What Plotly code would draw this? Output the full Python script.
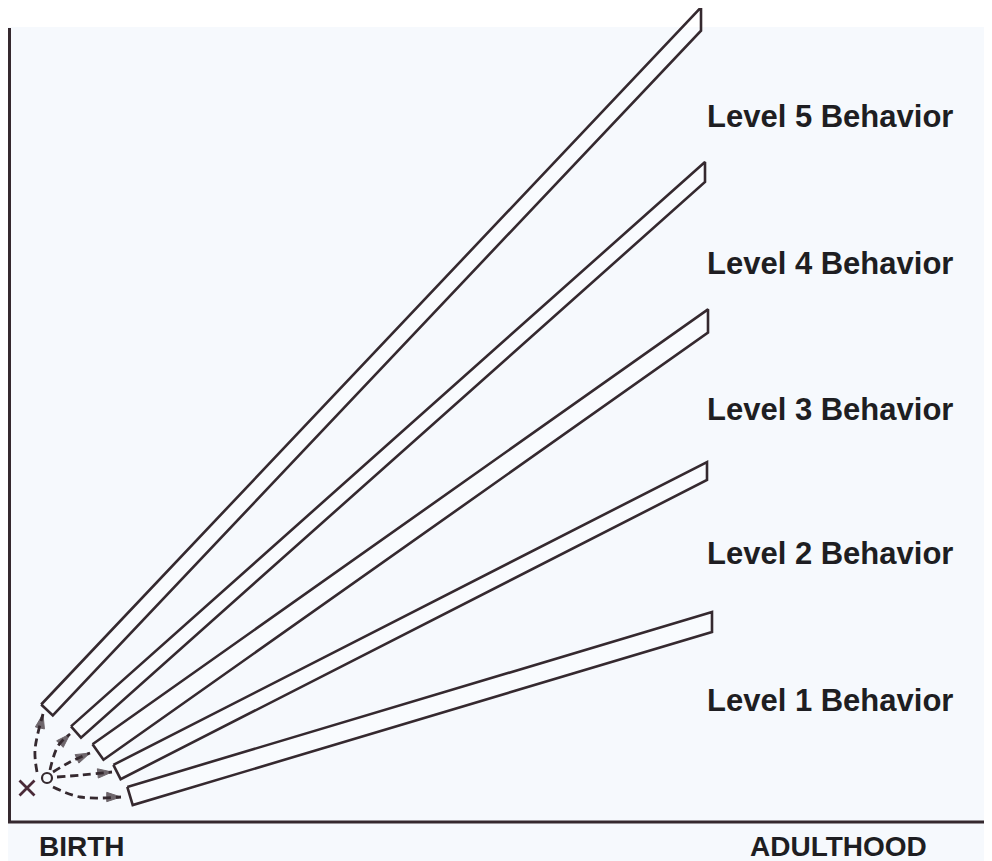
import numpy as np
import plotly.graph_objects as go

# ---- data (diagram units: x to the right, y downward) ----
levels = ["Level 1 Behavior", "Level 2 Behavior", "Level 3 Behavior",
          "Level 4 Behavior", "Level 5 Behavior"]
bar_start_x = [130, 117, 98, 76, 47]
bar_start_y = [796, 772, 752, 732, 710]
bar_end_x = [712, 707, 708, 705, 701]
bar_end_y = [622, 471, 321, 172, 19]
bar_thickness = [19, 16, 19, 15, 16]
label_y = [700, 553, 409, 263, 116]
label_x = 705

axis_x = [9.5, 9.5, 990]
axis_y = [28, 822, 822]
time_labels = ["BIRTH", "ADULTHOOD"]
time_label_x = [82, 838]
time_label_y = 846

origin_x = 27
origin_y = 788
hub_x = 47
hub_y = 778
# dashed arrows: start, bend, tip
arrow_x = [[53, 80, 121], [57, 82, 112], [53, 70, 90], [50, 58, 70], [37, 35, 43]]
arrow_y = [[787, 797, 797], [777, 775, 772], [772, 762, 753], [770, 746, 734], [772, 750, 714]]

INK = "#35292f"
BG = "#f6f9fd"

# the page body has an 8px margin; offset the axis ranges so diagram units match page pixels
PAGE_OFFSET = 8
FIG_W, FIG_H = 992 - PAGE_OFFSET, 861 - PAGE_OFFSET

fig = go.Figure()

# axes
fig.add_trace(go.Scatter(x=axis_x, y=axis_y, mode="lines",
                         line=dict(color=INK, width=3), hoverinfo="skip"))

# bars
for lx, ly, rx, ry, t in zip(bar_start_x, bar_start_y, bar_end_x, bar_end_y, bar_thickness):
    d = np.array([rx - lx, ry - ly], dtype=float)
    d /= np.linalg.norm(d)
    n = np.array([d[1], -d[0]])  # points "up" (smaller y)
    h = t / 2.0
    ul = np.array([lx, ly]) + n * h
    ll = np.array([lx, ly]) - n * h
    slope = d[1] / d[0]
    ur = (rx, ul[1] + (rx - ul[0]) * slope)
    lr = (rx, ll[1] + (rx - ll[0]) * slope)
    xs = [ul[0], ur[0], lr[0], ll[0], ul[0]]
    ys = [ul[1], ur[1], lr[1], ll[1], ul[1]]
    fig.add_trace(go.Scatter(x=xs, y=ys, mode="lines", fill="toself",
                             fillcolor="rgba(255,255,255,0.35)",
                             line=dict(color=INK, width=2.6), hoverinfo="skip"))

# dashed arrows
for ax_, ay_ in zip(arrow_x, arrow_y):
    fig.add_trace(go.Scatter(x=ax_, y=ay_, mode="lines",
                             line=dict(color=INK, width=2.8, dash="8px,5px", shape="spline"),
                             hoverinfo="skip"))
    fig.add_trace(go.Scatter(x=ax_[-2:], y=ay_[-2:], mode="markers",
                             marker=dict(symbol="arrow", angleref="previous",
                                         size=[0, 15], color=INK,
                                         line=dict(color=INK, width=1)),
                             hoverinfo="skip"))

# origin marks
fig.add_trace(go.Scatter(x=[origin_x], y=[origin_y], mode="markers",
                         marker=dict(symbol="x-thin", size=15, color="#4a2a38",
                                     line=dict(color="#4a2a38", width=2.8)),
                         hoverinfo="skip"))
fig.add_trace(go.Scatter(x=[hub_x], y=[hub_y], mode="markers",
                         marker=dict(symbol="circle-open", size=10, color=INK,
                                     line=dict(color=INK, width=2.2)),
                         hoverinfo="skip"))

annotations = []
for name, yv in zip(levels, label_y):
    annotations.append(dict(x=label_x, y=yv, text=name, showarrow=False,
                            xanchor="left", yanchor="middle",
                            font=dict(family="Arial, Liberation Sans", size=31,
                                      color="#1e1e22", weight="bold")))
for name, xv in zip(time_labels, time_label_x):
    annotations.append(dict(x=xv, y=time_label_y, text=name, showarrow=False,
                            xanchor="center", yanchor="middle",
                            font=dict(family="Arial, Liberation Sans", size=28,
                                      color="#1e1e22", weight="bold")))

fig.update_layout(
    width=FIG_W, height=FIG_H,
    margin=dict(l=0, r=0, t=0, b=0),
    paper_bgcolor=BG, plot_bgcolor=BG,
    showlegend=False,
    xaxis=dict(range=[PAGE_OFFSET, 992], visible=False, fixedrange=True),
    yaxis=dict(range=[861, PAGE_OFFSET], visible=False, fixedrange=True),
    annotations=annotations,
    shapes=[dict(type="rect", xref="paper", yref="y", x0=0, x1=1, y0=PAGE_OFFSET, y1=27,
                 fillcolor="white", line=dict(width=0), layer="below")],
)

fig.write_html("out.html")
